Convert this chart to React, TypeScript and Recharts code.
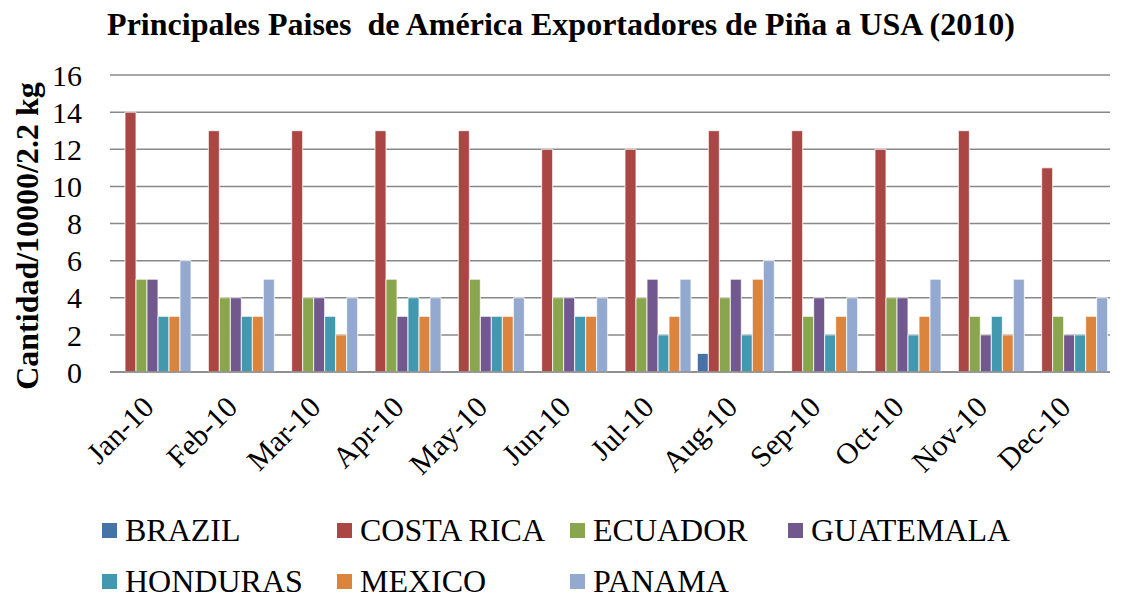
import React from 'react';
import { BarChart, Bar, XAxis, YAxis, CartesianGrid } from 'recharts';

const months = ['Jan-10','Feb-10','Mar-10','Apr-10','May-10','Jun-10','Jul-10','Aug-10','Sep-10','Oct-10','Nov-10','Dec-10'];
const brazil = [0,0,0,0,0,0,0,1,0,0,0,0];
const costaRica = [14,13,13,13,13,12,12,13,13,12,13,11];
const ecuador = [5,4,4,5,5,4,4,4,3,4,3,3];
const guatemala = [5,4,4,3,3,4,5,5,4,4,2,2];
const honduras = [3,3,3,4,3,3,2,2,2,2,3,2];
const mexico = [3,3,2,3,3,3,3,5,3,3,2,3];
const panama = [6,5,4,4,4,4,5,6,4,5,5,4];
const yTicks = [0,2,4,6,8,10,12,14,16];

const series = [
  { key: 'BRAZIL', values: brazil, color: '#4572A7' },
  { key: 'COSTA RICA', values: costaRica, color: '#AA4643' },
  { key: 'ECUADOR', values: ecuador, color: '#89A54E' },
  { key: 'GUATEMALA', values: guatemala, color: '#71588F' },
  { key: 'HONDURAS', values: honduras, color: '#4198AF' },
  { key: 'MEXICO', values: mexico, color: '#DB843D' },
  { key: 'PANAMA', values: panama, color: '#93A9CF' },
];

const data = months.map((m, i) => {
  const row: any = { month: m };
  series.forEach(s => { row[s.key] = s.values[i]; });
  return row;
});

const FONT = 'Liberation Serif';
const fontStyle = { fontFamily: FONT };

const XTick = (props: any) => {
  const { x, y, payload } = props;
  return (
    <g transform={`translate(${x + 4},${y + 29})`}>
      <text textAnchor="end" transform="rotate(-45)" style={fontStyle} fontSize={30} fill="#000">
        {payload.value}
      </text>
    </g>
  );
};

const legendPos = [
  { x: 102, y: 531 }, { x: 337, y: 531 }, { x: 570, y: 531 }, { x: 788, y: 531 },
  { x: 102, y: 582 }, { x: 337, y: 582 }, { x: 570, y: 582 },
];

export default function App() {
  return (
    <div style={{ position: 'absolute', left: 0, top: 0, width: 1124, height: 598, background: '#fff', fontFamily: FONT }}>
      <BarChart
        width={1124}
        height={598}
        data={data}
        margin={{ top: 75, right: 14, bottom: 0, left: 50 }}
        barCategoryGap={4}
        barGap={0}
        style={fontStyle}
      >
        <text x={561} y={35} textAnchor="middle" style={fontStyle} fontSize={32} fontWeight="bold" fill="#000">
          {'Principales Paises\u00a0 de América Exportadores de Piña a USA (2010)'}
        </text>
        <text
          x={0}
          y={0}
          transform="translate(38,236) rotate(-90)"
          textAnchor="middle"
          style={fontStyle}
          fontSize={32}
          fontWeight="bold"
          fill="#000"
        >
          Cantidad/10000/2.2 kg
        </text>
        {series.map((s, i) => (
          <g key={s.key}>
            <rect x={legendPos[i].x} y={legendPos[i].y - 8} width={15} height={15} fill={s.color} />
            <text x={legendPos[i].x + 23} y={legendPos[i].y + 10} style={fontStyle} fontSize={32} fill="#000">{s.key}</text>
          </g>
        ))}
        <CartesianGrid vertical={false} stroke="#888888" strokeWidth={1.5} />
        <XAxis
          dataKey="month"
          interval={0}
          tickLine={false}
          axisLine={{ stroke: '#888888', strokeWidth: 1.5 }}
          tick={<XTick />}
          height={226}
        />
        <YAxis
          width={60}
          domain={[0, 16]}
          ticks={yTicks}
          interval={0}
          tickLine={false}
          axisLine={false}
          tickMargin={22}
          tick={{ fontFamily: FONT, fontSize: 30, fill: '#000', style: fontStyle }}
        />
        {series.map(s => (
          <Bar key={s.key} dataKey={s.key} fill={s.color} stroke="#ffffff" strokeWidth={0.8} isAnimationActive={false} />
        ))}
      </BarChart>
    </div>
  );
}
